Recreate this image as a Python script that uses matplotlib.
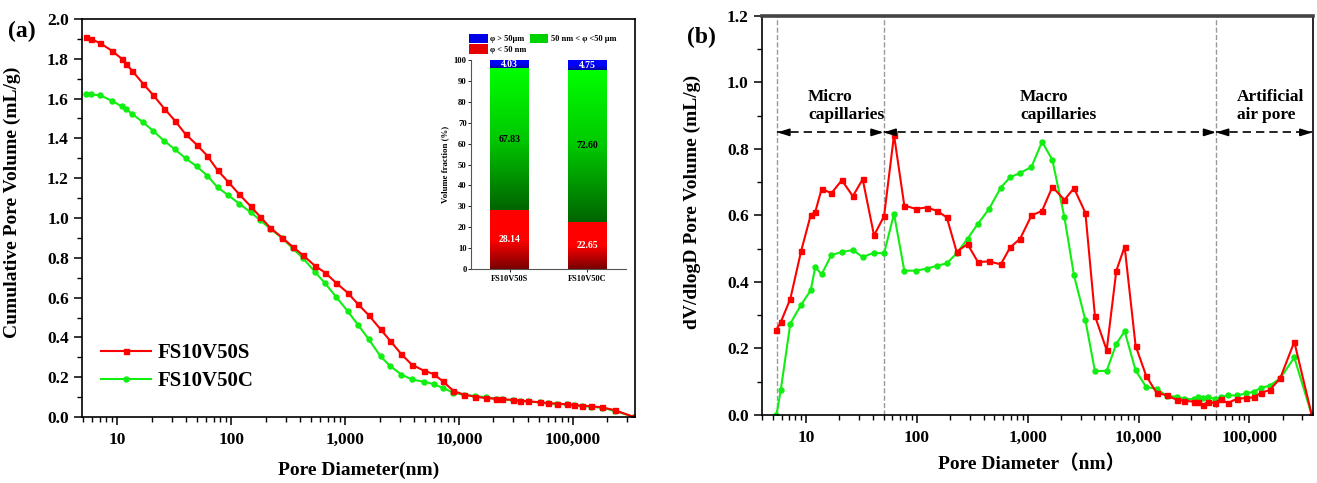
import numpy as np
import matplotlib
matplotlib.use('Agg')
import matplotlib.pyplot as plt
from matplotlib.colors import LinearSegmentedColormap
from matplotlib.ticker import FuncFormatter, MultipleLocator, NullFormatter
from matplotlib.patches import Patch

plt.rcParams['font.family'] = ['Liberation Serif', 'Noto Sans CJK SC']
plt.rcParams['font.weight'] = 'bold'
plt.rcParams['axes.labelweight'] = 'bold'

# ---------------- data ----------------
# (a) cumulative pore volume
diam_a = [5.35, 5.88, 7.1, 8.9, 10.9, 12.0, 13.5, 16.8, 20.7, 25.8, 32.0, 39.7, 49.6, 61.5,
          75.8, 94.1, 117.5, 147.8, 178.6, 220, 280, 345, 428, 542, 668, 828, 1048, 1300,
          1613, 2042, 2483, 3119, 3846, 4900, 5957, 7145, 8918, 11060, 13800, 17130,
          20980, 23680, 29940, 34260, 40550, 51360, 60000, 71900, 89200, 102000, 120000,
          143000, 178500, 233500, 343000]
cum_s = [1.911, 1.899, 1.878, 1.841, 1.801, 1.772, 1.740, 1.675, 1.617, 1.550, 1.489, 1.421,
         1.369, 1.313, 1.240, 1.181, 1.119, 1.059, 1.007, 0.951, 0.901, 0.856, 0.812, 0.760,
         0.725, 0.675, 0.625, 0.566, 0.511, 0.441, 0.383, 0.315, 0.263, 0.233, 0.216, 0.181,
         0.131, 0.112, 0.102, 0.095, 0.092, 0.090, 0.085, 0.082, 0.079, 0.074, 0.070, 0.067,
         0.064, 0.060, 0.057, 0.054, 0.049, 0.034, 0.0]
cum_c = [1.621, 1.621, 1.616, 1.590, 1.561, 1.546, 1.523, 1.481, 1.437, 1.387, 1.345, 1.300,
         1.260, 1.213, 1.154, 1.114, 1.072, 1.029, 0.990, 0.946, 0.899, 0.848, 0.797, 0.730,
         0.671, 0.605, 0.533, 0.462, 0.390, 0.305, 0.256, 0.213, 0.189, 0.177, 0.166, 0.147,
         0.122, 0.111, 0.106, 0.099, 0.092, 0.089, 0.085, 0.081, 0.078, 0.073, 0.069, 0.066,
         0.063, 0.059, 0.055, 0.052, 0.046, 0.031, 0.0]

# (b) dV/dlogD
diam_b = [5.4, 5.9, 7.2, 9.0, 11.0, 12.1, 13.8, 16.9, 21.0, 26.4, 32.4, 41.0, 50.5, 62.1,
          76.9, 97.3, 122, 152, 186, 228, 286, 355, 446, 571, 693, 853, 1080, 1346, 1667,
          2143, 2612, 3311, 4036, 5152, 6295, 7482, 9397, 11722, 14521, 17989, 22336,
          25645, 31477, 34198, 38282, 42073, 48417, 54828, 63826, 77446, 93972, 109396,
          127644, 152405, 189234, 254097, 365000]
dv_s = [0.257, 0.279, 0.349, 0.492, 0.601, 0.611, 0.680, 0.667, 0.706, 0.658, 0.709, 0.540,
        0.598, 0.842, 0.630, 0.620, 0.624, 0.614, 0.594, 0.491, 0.514, 0.460, 0.462, 0.453,
        0.504, 0.530, 0.600, 0.614, 0.686, 0.647, 0.682, 0.608, 0.298, 0.195, 0.434, 0.506,
        0.208, 0.117, 0.067, 0.059, 0.045, 0.043, 0.040, 0.040, 0.029, 0.040, 0.036, 0.047,
        0.036, 0.049, 0.051, 0.053, 0.067, 0.075, 0.110, 0.220, 0.0]
dv_c = [0.0, 0.074, 0.275, 0.331, 0.375, 0.445, 0.423, 0.481, 0.490, 0.496, 0.475, 0.488,
        0.486, 0.605, 0.434, 0.434, 0.440, 0.449, 0.456, 0.486, 0.530, 0.575, 0.619, 0.684,
        0.715, 0.728, 0.746, 0.822, 0.767, 0.594, 0.420, 0.285, 0.132, 0.133, 0.214, 0.252,
        0.134, 0.084, 0.079, 0.057, 0.055, 0.049, 0.047, 0.053, 0.050, 0.053, 0.049, 0.053,
        0.059, 0.059, 0.065, 0.070, 0.082, 0.088, 0.110, 0.173, 0.0]

# inset: volume fractions (%)
samples = ['FS10V50S', 'FS10V50C']
frac_small = [28.14, 22.65]   # < 50 nm
frac_mid = [67.83, 72.60]     # 50 nm - 50 um
frac_big = [4.03, 4.75]       # > 50 um

# pore class boundaries (nm) for panel b
bounds = [5.5, 50, 50000, 370000]
regions = ['Micro\ncapillaries', 'Macro\ncapillaries', 'Artificial\nair pore']
region_x = [10.4, 850, 77000]

RED = '#ff0000'
GREEN = '#11ee11'

comma = FuncFormatter(lambda v, p: f'{v:,.0f}')


def style_axis(ax, ymajor):
    ax.set_xscale('log')
    ax.xaxis.set_major_formatter(comma)
    ax.xaxis.set_minor_formatter(NullFormatter())
    ax.yaxis.set_major_locator(MultipleLocator(ymajor))
    ax.yaxis.set_minor_locator(MultipleLocator(ymajor / 2))
    ax.tick_params(which='major', direction='out', length=6, width=1.1, labelsize=12.5)
    ax.tick_params(which='minor', direction='out', length=3.5, width=1)
    ax.tick_params(axis='x', pad=5)
    for s in ax.spines.values():
        s.set_linewidth(1.2)


fig = plt.figure(figsize=(13.17, 4.83), dpi=100)

# ---------------- (a) ----------------
ax1 = fig.add_axes([0.0623, 0.1366, 0.4199, 0.8241])
lc, = ax1.plot(diam_a, cum_c, '-o', color=GREEN, ms=3.6, lw=1.5)
ls_, = ax1.plot(diam_a, cum_s, '-s', color=RED, ms=3.6, lw=1.5)
style_axis(ax1, 0.2)
ax1.set_xlim(4.9, 350000)
ax1.set_ylim(0, 2.0)
ax1.set_ylabel('Cumulative Pore Volume (mL/g)', fontsize=14)
ax1.set_xlabel('Pore Diameter(nm)', fontsize=14)
ax1.yaxis.set_label_coords(-0.11, 0.54)
ax1.xaxis.set_label_coords(0.5, -0.112)
ax1.legend([ls_, lc], samples, loc='center left', bbox_to_anchor=(0.035, 0.125),
           frameon=False, fontsize=15, handlelength=2.4, handletextpad=0.3,
           labelspacing=0.4, borderpad=0, borderaxespad=0)
fig.text(22 / 1317, 1 - 31 / 483, '(a)', fontsize=17, ha='center', va='center')

# inset stacked bars with vertical gradients
axi = fig.add_axes([0.3576, 0.443, 0.1177, 0.4327])
cmaps = [LinearSegmentedColormap.from_list('r', ['#780000', '#ff0000', '#ff0000']),
         LinearSegmentedColormap.from_list('g', ['#006400', '#00c800', '#00ff00']),
         LinearSegmentedColormap.from_list('b', ['#0000a0', '#0000ff', '#0000ff'])]
grad = np.linspace(0, 1, 256).reshape(-1, 1)
bw = 0.5
for i in range(len(samples)):
    segs = [frac_small[i], frac_mid[i], frac_big[i]]
    bottom = 0
    for j, v in enumerate(segs):
        axi.imshow(grad, extent=[i - bw / 2, i + bw / 2, bottom, bottom + v],
                   origin='lower', aspect='auto', cmap=cmaps[j], zorder=2)
        axi.text(i, bottom + v / 2, f'{v:.2f}', ha='center', va='center', fontsize=7,
                 color='black' if j == 1 else 'white', zorder=3)
        bottom += v
axi.set_xlim(-0.5, 1.5)
axi.set_ylim(0, 100)
axi.set_xticks([0, 1], samples, fontsize=6)
axi.set_yticks(np.arange(0, 101, 10))
axi.tick_params(axis='y', labelsize=6.2, length=2, width=0.6, pad=1)
axi.tick_params(axis='x', length=2, width=0.6, pad=2)
axi.set_ylabel('Volume fraction (%)', fontsize=6.3, labelpad=3)
axi.spines['top'].set_visible(False)
axi.spines['right'].set_visible(False)
axi.spines['left'].set_linestyle((0, (1, 1)))
axi.spines['left'].set_color('#555555')
axi.spines['bottom'].set_color('#555555')
axi.spines['left'].set_linewidth(0.8)
axi.spines['bottom'].set_linewidth(0.8)
handles = [Patch(facecolor='#0000e6'), Patch(facecolor='#e60000'), Patch(facecolor='#00d200')]
axi.legend(handles, ['φ > 50μm', 'φ < 50 nm', '50 nm < φ <50 μm'], ncol=2,
           loc='lower left', bbox_to_anchor=(-0.01, 1.03), frameon=False, fontsize=6,
           handlelength=2.2, handleheight=1.3, handletextpad=0.3, columnspacing=0.4,
           labelspacing=0.15, borderpad=0, borderaxespad=0)

# ---------------- (b) ----------------
ax2 = fig.add_axes([0.5786, 0.1408, 0.4184, 0.8261])
ax2.plot(diam_b, dv_c, '-o', color=GREEN, ms=3.6, lw=1.5)
ax2.plot(diam_b, dv_s, '-s', color=RED, ms=3.6, lw=1.5)
style_axis(ax2, 0.2)
ax2.set_xlim(4.0, 375000)
ax2.set_ylim(0, 1.2)
ax2.spines['top'].set_linewidth(2.6)
ax2.spines['top'].set_color('#444444')
ax2.set_ylabel('dV/dlogD Pore Volume (mL/g)', fontsize=14)
ax2.set_xlabel('Pore Diameter（nm）', fontsize=14)
ax2.yaxis.set_label_coords(-0.111, 0.535)
ax2.xaxis.set_label_coords(0.49, -0.1)
fig.text(701 / 1317, 1 - 37 / 483, '(b)', fontsize=17, ha='center', va='center')

for b in bounds[:3]:
    ax2.axvline(b, color='#9a9a9a', ls='--', lw=1, zorder=0)
ya = 0.85
for k in range(3):
    x0, x1 = bounds[k], bounds[k + 1]
    ax2.plot([x0, x1], [ya, ya], color='black', ls=(0, (5, 3)), lw=1.2)
    for xe, xs in [(x0, x0 * 1.25), (x1, x1 / 1.25)]:
        ax2.annotate('', xy=(xe, ya), xytext=(xs, ya),
                     arrowprops=dict(arrowstyle='-|>,head_length=0.7,head_width=0.22',
                                     color='black', lw=1.2, shrinkA=0, shrinkB=0))
    ax2.text(region_x[k], 0.93, regions[k], ha='left', va='center', fontsize=12.5,
             linespacing=1.2)

fig.savefig('out.png', dpi=100)
